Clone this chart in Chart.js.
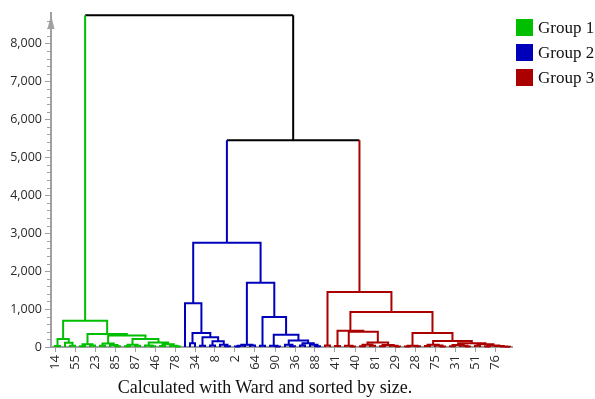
<!DOCTYPE html>
<html>
<head>
<meta charset="utf-8">
<script src="https://cdn.jsdelivr.net/npm/chart.js@4.4.1/dist/chart.umd.min.js"></script>
<style>
  html, body { margin: 0; padding: 0; background: #fff; }
  #wrap { position: relative; width: 595px; height: 399px; }
  #legend { position: absolute; left: 516px; top: 15px; width: 90px; white-space: nowrap; font-family: "Liberation Serif", "DejaVu Serif", serif; font-size: 17px; color: #111; }
  #legend div { display: flex; align-items: center; height: 25px; }
  #legend span { display: inline-block; width: 17px; height: 17px; margin-right: 5px; }
  #caption { position: absolute; left: 0; width: 530px; top: 377px; text-align: center; white-space: nowrap; font-family: "Liberation Serif", "DejaVu Serif", serif; font-size: 18px; color: #111; }
</style>
</head>
<body>
<div id="wrap">
  <canvas id="myChart" width="595" height="399"></canvas>
  <div id="legend"></div>
  <div id="caption">Calculated with Ward and sorted by size.</div>
</div>
<script>
// leaf labels shown under the axis (every 4th leaf)
const tickLabels = ["14","55","23","85","87","46","78","34","8","2","64","90","36","88","41","40","81","29","28","75","31","51","76"];
const tickLeaves = tickLabels.map((l, i) => i * 4);
const yTicks = [0, 1000, 2000, 3000, 4000, 5000, 6000, 7000, 8000];

// cluster trees: [height, left, right], a plain number is a leaf position
const group1 = [690,
  [210, [25, 0, 1], [110, 2, [30, 3, 4]]],
  [340,
    [70, [20, 5, 6], [40, 7, 8]],
    [300,
      [90, [35, 9, 10], [50, 11, [20, 12, 13]]],
      [210,
        [60, [20, 14, 15], [30, 16, 17]],
        [120, [40, 18, [20, 19, 20]], [70, [25, 21, 22], [35, 23, [15, 24, 25]]]]]]]];

const group2 = [2750,
  [1150, 26, [370, [100, 27, 28], [260, [30, 29, 30], [150, [40, 31, 32], [60, 33, [20, 34, 35]]]]]],
  [1690,
    [60, [30, [10, 36, 37], 38], [40, 39, 40]],
    [790, [30, 41, 42], [320, [30, 43, [15, 44, 45]], [170, [60, 46, [20, 47, 48]], [100, [40, 49, 50], [60, 51, [20, 52, 53]]]]]]]];

const group3 = [1450,
  [40, 54, 55],
  [920,
    [430, [25, 56, 57], [400, [30, 58, [15, 59, 60]], [120, [60, [20, 61, 62], [30, 63, 64]], [50, [20, 65, 66], [30, 67, [10, 68, 69]]]]]],
    [370,
      [35, [15, 70, 71], [20, 72, 73]],
      [160,
        [60, [25, 74, 75], [40, 76, [15, 77, 78]]],
        [100, [50, [20, 79, 80], [30, 81, [10, 82, 83]]], [70, [30, 84, 85], [40, [15, 86, 87], [25, 88, [10, 89, [8, 90, 91]]]]]]]]]];

const joinHeights = [5450, 8740]; // group2+group3, then with group1

const groupNames = ["Group 1", "Group 2", "Group 3"];
const groupColors = ["#00bf00", "#0000bb", "#aa0000"];

const segs = { g: [], b: [], r: [], k: [] };
function addLine(key, pts) {
  segs[key].push(...pts, { x: pts[pts.length - 1].x, y: null });
}
function walk(node, key) {
  if (typeof node === "number") return { x: node, h: 0 };
  const a = walk(node[1], key), b = walk(node[2], key), h = node[0];
  addLine(key, [{ x: a.x, y: a.h }, { x: a.x, y: h }, { x: b.x, y: h }, { x: b.x, y: b.h }]);
  return { x: (a.x + b.x) / 2, h: h };
}

const n1 = walk(group1, "g");
const n2 = walk(group2, "b");
const n3 = walk(group3, "r");
const midX = (n2.x + n3.x) / 2;
addLine("b", [{ x: n2.x, y: n2.h }, { x: n2.x, y: joinHeights[0] }]);
addLine("r", [{ x: n3.x, y: n3.h }, { x: n3.x, y: joinHeights[0] }]);
addLine("k", [{ x: n2.x, y: joinHeights[0] }, { x: n3.x, y: joinHeights[0] }]);
addLine("g", [{ x: n1.x, y: n1.h }, { x: n1.x, y: joinHeights[1] }]);
addLine("k", [{ x: midX, y: joinHeights[0] }, { x: midX, y: joinHeights[1] }]);
addLine("k", [{ x: n1.x, y: joinHeights[1] }, { x: midX, y: joinHeights[1] }]);

function ds(label, key, color) {
  return { label: label, data: segs[key], borderColor: color, borderWidth: 2, pointRadius: 0,
    spanGaps: false, tension: 0, fill: false, clip: false };
}

// small ticks every 200 plus the arrow on the y axis
const axisExtras = {
  id: "axisExtras",
  afterDraw(chart) {
    const ctx = chart.ctx, y = chart.scales.y, left = chart.chartArea.left;
    ctx.save();
    ctx.strokeStyle = "#a0a0a0";
    ctx.lineWidth = 1;
    for (let v = 200; v <= 8600; v += 200) {
      if (v % 1000 === 0) continue;
      const py = Math.round(y.getPixelForValue(v)) + 0.5;
      ctx.beginPath();
      ctx.moveTo(left - 4, py);
      ctx.lineTo(left, py);
      ctx.stroke();
    }
    ctx.fillStyle = "#a0a0a0";
    const top = chart.chartArea.top;
    ctx.beginPath();
    ctx.moveTo(left, top + 2);
    ctx.lineTo(left - 3.5, top + 16);
    ctx.lineTo(left + 3.5, top + 16);
    ctx.closePath();
    ctx.fill();
    ctx.restore();
  }
};

const ctx = document.getElementById("myChart").getContext("2d");
new Chart(ctx, {
  type: "line",
  data: {
    datasets: [
      ds("Group 1", "g", groupColors[0]),
      ds("Group 2", "b", groupColors[1]),
      ds("Group 3", "r", groupColors[2]),
      ds("join", "k", "#000000")
    ]
  },
  options: {
    responsive: false,
    animation: false,
    layout: { padding: { left: 0, top: 13, right: 83, bottom: 0 } },
    plugins: { legend: { display: false }, tooltip: { enabled: false } },
    scales: {
      x: {
        type: "linear",
        min: -0.8,
        max: 91.4,
        afterBuildTicks: (scale) => { scale.ticks = tickLeaves.map(v => ({ value: v })); },
        afterFit: (scale) => { scale.height = 52; },
        ticks: {
          minRotation: 90, maxRotation: 90, autoSkip: false, padding: 3,
          color: "#2a2a2a", font: { family: "Open Sans", size: 13 },
          callback: (v) => tickLabels[tickLeaves.indexOf(v)]
        },
        grid: { drawOnChartArea: false, tickLength: 5, tickColor: "#a0a0a0" },
        border: { color: "#a0a0a0", width: 2 }
      },
      y: {
        type: "linear",
        min: 0,
        max: 8800,
        afterBuildTicks: (scale) => { scale.ticks = yTicks.map(v => ({ value: v })); },
        afterFit: (scale) => { scale.width = 51; },
        ticks: {
          autoSkip: false, padding: 3, color: "#2a2a2a",
          font: { family: "Open Sans", size: 12.5 },
          callback: (v) => v.toLocaleString("en-US")
        },
        grid: { drawOnChartArea: false, tickLength: 6, tickColor: "#a0a0a0" },
        border: { color: "#a0a0a0", width: 2 }
      }
    }
  },
  plugins: [axisExtras]
});

// legend
const legend = document.getElementById("legend");
groupNames.forEach((name, i) => {
  const row = document.createElement("div");
  const box = document.createElement("span");
  box.style.background = groupColors[i];
  row.appendChild(box);
  row.appendChild(document.createTextNode(name));
  legend.appendChild(row);
});
</script>
</body>
</html>
